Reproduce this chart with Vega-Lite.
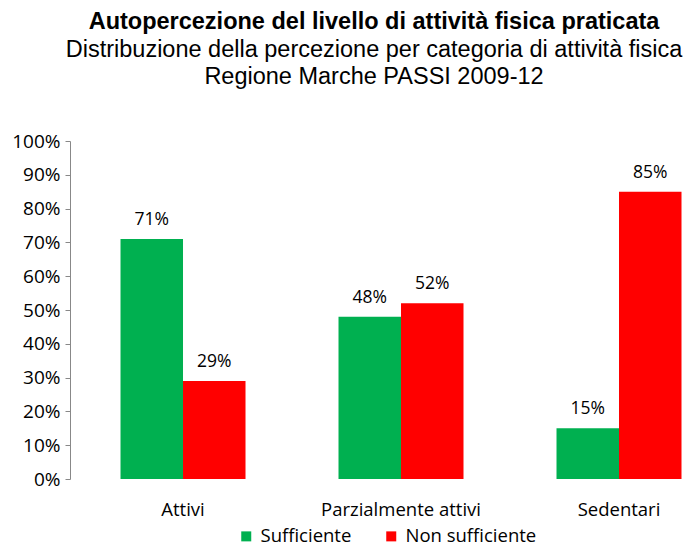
{
  "$schema": "https://vega.github.io/schema/vega-lite/v6.json",
  "width": 626,
  "height": 338,
  "autosize": {"type": "none"},
  "padding": {"left": 70, "top": 141, "right": 0, "bottom": 68},
  "background": "white",
  "title": {
    "text": "Autopercezione del livello di attività fisica praticata",
    "subtitle": ["Distribuzione della percezione per categoria di attività fisica", "Regione Marche PASSI 2009-12"],
    "anchor": "middle",
    "dx": -9,
    "offset": 44,
    "font": "Liberation Sans",
    "fontSize": 23.5,
    "fontWeight": "bold",
    "color": "black",
    "subtitleFont": "Liberation Sans",
    "subtitleFontSize": 23.5,
    "subtitleColor": "black",
    "subtitleLineHeight": 27,
    "subtitlePadding": 4
  },
  "data": {
    "values": [
      {"categoria": "Attivi", "percezione": "Sufficiente", "valore": 0.71},
      {"categoria": "Attivi", "percezione": "Non sufficiente", "valore": 0.29},
      {"categoria": "Parzialmente attivi", "percezione": "Sufficiente", "valore": 0.48},
      {"categoria": "Parzialmente attivi", "percezione": "Non sufficiente", "valore": 0.52},
      {"categoria": "Sedentari", "percezione": "Sufficiente", "valore": 0.15},
      {"categoria": "Sedentari", "percezione": "Non sufficiente", "valore": 0.85}
    ]
  },
  "encoding": {
    "x": {
      "field": "categoria",
      "type": "nominal",
      "sort": ["Attivi", "Parzialmente attivi", "Sedentari"],
      "scale": {"paddingInner": 0.4266, "paddingOuter": 0.1491, "align": 0.777},
      "axis": {
        "title": null,
        "domain": false,
        "ticks": false,
        "labelAngle": 0,
        "labelFont": "Open Sans",
        "labelFontSize": 18.5,
        "labelColor": "black",
        "labelPadding": 21
      }
    },
    "xOffset": {
      "field": "percezione",
      "type": "nominal",
      "sort": ["Sufficiente", "Non sufficiente"],
      "scale": {"paddingInner": 0, "paddingOuter": 0}
    },
    "y": {
      "field": "valore",
      "type": "quantitative",
      "scale": {"domain": [0, 1], "nice": false},
      "axis": {
        "title": null,
        "format": ".0%",
        "values": [0, 0.1, 0.2, 0.3, 0.4, 0.5, 0.6, 0.7, 0.8, 0.9, 1],
        "grid": false,
        "domainColor": "#888888",
        "tickColor": "#888888",
        "tickSize": 5,
        "labelFont": "Open Sans",
        "labelFontSize": 19,
        "labelColor": "black",
        "labelPadding": 5
      }
    }
  },
  "layer": [
    {
      "mark": {"type": "bar"},
      "encoding": {
        "color": {
          "field": "percezione",
          "type": "nominal",
          "sort": ["Sufficiente", "Non sufficiente"],
          "scale": {"domain": ["Sufficiente", "Non sufficiente"], "range": ["#00B050", "#FF0000"]},
          "legend": {
            "title": null,
            "orient": "none",
            "direction": "horizontal",
            "legendX": 167,
            "legendY": 386,
            "symbolType": "square",
            "symbolSize": 100,
            "symbolStrokeWidth": 0,
            "symbolOpacity": 1,
            "labelFont": "Open Sans",
            "labelFontSize": 18.5,
            "labelColor": "black",
            "labelOffset": 5,
            "columnPadding": 30
          }
        }
      }
    },
    {
      "mark": {"type": "text", "baseline": "bottom", "dy": -10, "font": "Open Sans", "fontSize": 17.5, "color": "black"},
      "encoding": {
        "text": {"field": "valore", "type": "quantitative", "format": ".0%"}
      }
    }
  ],
  "config": {"view": {"stroke": null}}
}
